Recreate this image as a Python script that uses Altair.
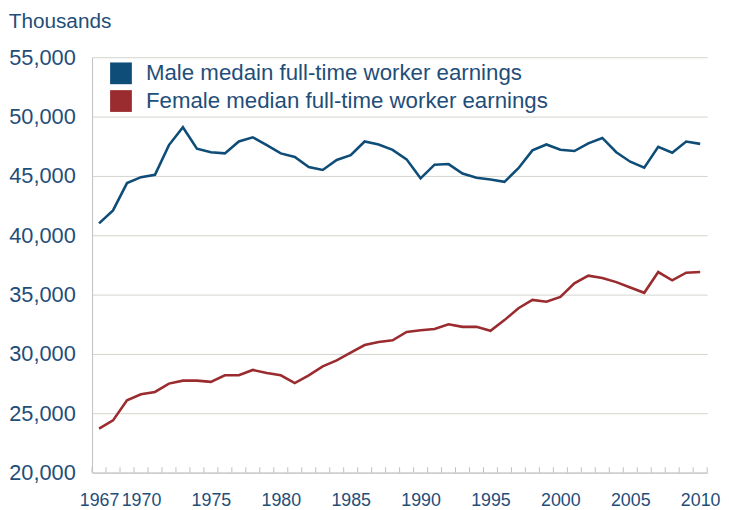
import altair as alt
import pandas as pd

years = list(range(1967, 2011))
male = [41000, 42100, 44400, 44900, 45100, 47600, 49100, 47300, 47000, 46900,
        47900, 48250, 47600, 46900, 46600, 45750, 45500, 46350, 46750, 47900,
        47650, 47200, 46400, 44800, 45950, 46000, 45200, 44850, 44700, 44500,
        45650, 47150, 47650, 47200, 47100, 47750, 48200, 47000, 46200, 45700,
        47450, 46950, 47900, 47700]
female = [23700, 24400, 26100, 26600, 26800, 27500, 27750, 27750, 27650, 28200,
          28200, 28650, 28400, 28200, 27550, 28200, 28950, 29450, 30100, 30750,
          31000, 31150, 31850, 32000, 32100, 32500, 32280, 32280, 31950, 32850,
          33850, 34550, 34400, 34800, 35950, 36600, 36400, 36050, 35600, 35150,
          36900, 36200, 36850, 36900]
series_names = ["Male medain full-time worker earnings",
                "Female median full-time worker earnings"]
series_colors = ["#0E4D78", "#9A2B2E"]
label_years = [1967, 1970, 1975, 1980, 1985, 1990, 1995, 2000, 2005, 2010]
y_ticks = [20000, 25000, 30000, 35000, 40000, 45000, 50000, 55000]
tick_bounds = [y - 0.5 for y in range(1967, 2012)]

df = pd.DataFrame({
    "year": years + years,
    "value": male + female,
    "series": [series_names[0]] * len(years) + [series_names[1]] * len(years),
})
ticks_df = pd.DataFrame({"x": tick_bounds})

text_color = "#1F4E79"
font = "Liberation Sans"
axis_gray = "#BFBFBF"

x_scale = alt.Scale(domain=[1966.5, 2010.5], nice=False, zero=False)
y_scale = alt.Scale(domain=[20000, 55000], nice=False, zero=False)
color_scale = alt.Scale(domain=series_names, range=series_colors)

x_axis = alt.Axis(values=label_years, title=None, ticks=False,
                  grid=False, labelFontSize=18, labelColor=text_color,
                  labelPadding=19, domainColor=axis_gray, labelFont=font,
                  labelFlush=False, labelOverlap=False,
                  labelExpr="format(datum.value, 'd')")
y_axis = alt.Axis(values=y_ticks, title=None, ticks=False,
                  grid=True, gridColor="#D3D3CC", labelFontSize=22,
                  labelColor=text_color, labelPadding=17,
                  domainColor=axis_gray, labelFont=font,
                  labelExpr="format(datum.value, ',')")

lines = alt.Chart(df).mark_line(strokeWidth=2.6).encode(
    x=alt.X("year:Q", scale=x_scale, axis=x_axis),
    y=alt.Y("value:Q", scale=y_scale, axis=y_axis),
    color=alt.Color("series:N", scale=color_scale, legend=None),
)

# legend-only layer: filled squares keyed to the same colour scale, no rows drawn
legend_layer = alt.Chart(df).mark_square(filled=True, opacity=1).encode(
    x=alt.X("year:Q", scale=x_scale, axis=x_axis),
    y=alt.Y("value:Q", scale=y_scale, axis=y_axis),
    color=alt.Color("series:N", scale=color_scale,
                    legend=alt.Legend(orient="none", legendX=18, legendY=5,
                                      title=None, symbolType="square",
                                      symbolSize=484, symbolStrokeWidth=0,
                                      symbolOpacity=1,
                                      labelFontSize=22.5, labelColor=text_color,
                                      labelFont=font, labelOffset=14,
                                      rowPadding=5, labelLimit=600)),
).transform_filter(alt.datum.value < 20000)

ticks = alt.Chart(ticks_df).mark_rule(color=axis_gray, strokeWidth=1).encode(
    x=alt.X("x:Q", scale=x_scale, axis=x_axis),
    y=alt.YDatum(20000, scale=y_scale, axis=y_axis),
    y2=alt.datum(20450),
)

chart = alt.layer(lines, legend_layer, ticks).resolve_legend(
    color="independent"
).properties(
    width=622, height=420,
    padding={"left": 85, "top": 47, "right": 14, "bottom": 35},
    autosize="none",
    title=alt.TitleParams("Thousands", anchor="start", frame="bounds",
                          fontSize=21, color=text_color, font=font,
                          fontWeight="normal", offset=15),
).configure_view(stroke=None)

chart.save("out.html", embed_options={"renderer": "svg", "actions": False})
